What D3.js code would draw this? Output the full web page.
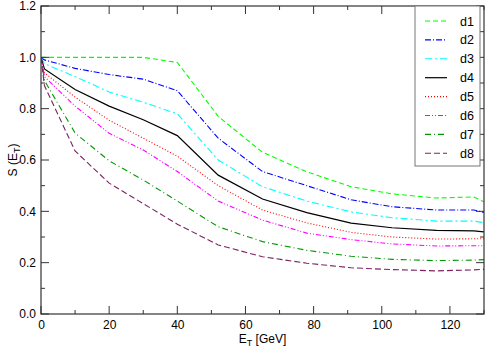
<!DOCTYPE html>
<html>
<head>
<meta charset="utf-8">
<script src="https://cdn.jsdelivr.net/npm/d3@7/dist/d3.min.js"></script>
<style>
  body { margin: 0; background: #fff; }
  svg { font-family: "Liberation Sans", Arial, sans-serif; }
</style>
</head>
<body>
<div id="chart"></div>
<script>
// E_T grid points (GeV)
const et = [0, 1, 10, 20, 30, 40, 52, 65, 78, 91, 103, 116, 127, 130];

// S(E_T) for each series
const sD1 = [1.0, 1.0, 1.0, 1.0, 1.0, 0.98, 0.77, 0.63, 0.554, 0.496, 0.468, 0.452, 0.456, 0.437];
const sD2 = [1.0, 0.99, 0.957, 0.933, 0.915, 0.87, 0.685, 0.555, 0.50, 0.445, 0.418, 0.405, 0.405, 0.396];
const sD3 = [1.0, 0.975, 0.925, 0.865, 0.825, 0.78, 0.60, 0.496, 0.44, 0.398, 0.375, 0.362, 0.362, 0.356];
const sD4 = [1.0, 0.955, 0.875, 0.81, 0.757, 0.695, 0.541, 0.448, 0.395, 0.354, 0.336, 0.326, 0.324, 0.32];
const sD5 = [1.0, 0.94, 0.845, 0.755, 0.685, 0.615, 0.50, 0.405, 0.355, 0.318, 0.30, 0.292, 0.293, 0.293];
const sD6 = [1.0, 0.925, 0.81, 0.704, 0.639, 0.555, 0.44, 0.366, 0.315, 0.29, 0.273, 0.265, 0.266, 0.266];
const sD7 = [1.0, 0.91, 0.705, 0.597, 0.522, 0.44, 0.34, 0.282, 0.248, 0.225, 0.213, 0.208, 0.21, 0.212];
const sD8 = [1.0, 0.89, 0.635, 0.51, 0.43, 0.35, 0.269, 0.223, 0.198, 0.18, 0.173, 0.168, 0.172, 0.174];

const names = ["d1", "d2", "d3", "d4", "d5", "d6", "d7", "d8"];
const values = [sD1, sD2, sD3, sD4, sD5, sD6, sD7, sD8];
const colors = ["#00ff00", "#0000ff", "#00ffff", "#000000", "#ff0000", "#ff00ff", "#009900", "#7b2360"];
const dashes = ["5,3", "6,2,1,2", "7,3,2,3", null, "1,2", "5,2,1,2,1,2", "6,3,1,3", "6,3"];

const xTicks = [0, 20, 40, 60, 80, 100, 120];
const yTicks = [0.0, 0.2, 0.4, 0.6, 0.8, 1.0, 1.2];

const W = 486, H = 348;
const m = { left: 41, right: 484, top: 6, bottom: 314 };

const svg = d3.select("#chart").append("svg")
    .attr("width", W)
    .attr("height", H);

const x = d3.scaleLinear().domain([0, 130]).range([m.left, m.right]);
const y = d3.scaleLinear().domain([0, 1.2]).range([m.bottom, m.top]);

// clip so lines stay inside the frame
svg.append("defs").append("clipPath").attr("id", "clip")
    .append("rect")
    .attr("x", m.left).attr("y", m.top)
    .attr("width", m.right - m.left).attr("height", m.bottom - m.top);

// curves
const line = d3.line()
    .x((d, i) => x(et[i]))
    .y(d => y(d));

const curves = svg.append("g").attr("clip-path", "url(#clip)");
values.forEach((v, k) => {
    curves.append("path")
        .attr("d", line(v))
        .attr("fill", "none")
        .attr("stroke", colors[k])
        .attr("stroke-width", k === 3 ? 1.2 : 1.1)
        .attr("stroke-dasharray", dashes[k]);
});

// axes: ticks point inward, on all four sides
const axisColor = "#333";
const bottomAxis = d3.axisBottom(x).tickValues(d3.range(0, 131, 10))
    .tickSize(0).tickFormat(d => xTicks.includes(d) ? d : "").tickPadding(6.5);
svg.append("g")
    .attr("transform", `translate(0,${m.bottom})`)
    .call(bottomAxis)
    .call(g => g.select(".domain").remove())
    .call(g => g.selectAll("text").attr("font-size", 12).attr("fill", "#000")
        .attr("font-family", "Liberation Sans, Arial, sans-serif"));

const leftAxis = d3.axisLeft(y).tickValues(yTicks)
    .tickSize(0).tickFormat(d3.format(".1f")).tickPadding(5);
svg.append("g")
    .attr("transform", `translate(${m.left},0)`)
    .call(leftAxis)
    .call(g => g.select(".domain").remove())
    .call(g => g.selectAll("text").attr("font-size", 12).attr("fill", "#000")
        .attr("font-family", "Liberation Sans, Arial, sans-serif"));

const ticks = svg.append("g").attr("stroke", axisColor).attr("stroke-width", 1);
d3.range(0, 131, 10).forEach(v => {
    const len = v % 20 === 0 ? 8 : 4;
    ticks.append("line").attr("x1", x(v)).attr("x2", x(v))
        .attr("y1", m.bottom).attr("y2", m.bottom - len);
    ticks.append("line").attr("x1", x(v)).attr("x2", x(v))
        .attr("y1", m.top).attr("y2", m.top + len);
});
d3.range(0, 13).forEach(i => {
    const v = i / 10;
    const len = i % 2 === 0 ? 8 : 4;
    ticks.append("line").attr("x1", m.left).attr("x2", m.left + len)
        .attr("y1", y(v)).attr("y2", y(v));
    ticks.append("line").attr("x1", m.right).attr("x2", m.right - len)
        .attr("y1", y(v)).attr("y2", y(v));
});

// frame
svg.append("rect")
    .attr("x", m.left).attr("y", m.top)
    .attr("width", m.right - m.left).attr("height", m.bottom - m.top)
    .attr("fill", "none")
    .attr("stroke", axisColor)
    .attr("stroke-width", 1.2);

// axis titles
const xt = svg.append("text")
    .attr("x", (m.left + m.right) / 2)
    .attr("y", 342.5)
    .attr("text-anchor", "middle")
    .attr("font-size", 12);
xt.append("tspan").text("E");
xt.append("tspan").attr("dy", 3).attr("font-size", 9).text("T");
xt.append("tspan").attr("dy", -3).text(" [GeV]");

const yt = svg.append("text")
    .attr("transform", `translate(17,${(m.top + m.bottom) / 2}) rotate(-90)`)
    .attr("text-anchor", "middle")
    .attr("font-size", 12);
yt.append("tspan").text("S (E");
yt.append("tspan").attr("dy", 3).attr("font-size", 9).text("T");
yt.append("tspan").attr("dy", -3).text(")");

// legend
const legend = svg.append("g");
legend.append("rect")
    .attr("x", 415).attr("y", m.top)
    .attr("width", 65).attr("height", 160)
    .attr("fill", "#fff")
    .attr("stroke", "#777")
    .attr("stroke-width", 1);

names.forEach((n, k) => {
    const ly = 21 + k * 18.9;
    legend.append("line")
        .attr("x1", 425).attr("x2", 447)
        .attr("y1", ly).attr("y2", ly)
        .attr("stroke", colors[k])
        .attr("stroke-width", k === 3 ? 1.2 : 1.1)
        .attr("stroke-dasharray", dashes[k]);
    legend.append("text")
        .attr("x", 460).attr("y", ly + 4.5)
        .attr("font-size", 12.5)
        .text(n);
});
</script>
</body>
</html>
